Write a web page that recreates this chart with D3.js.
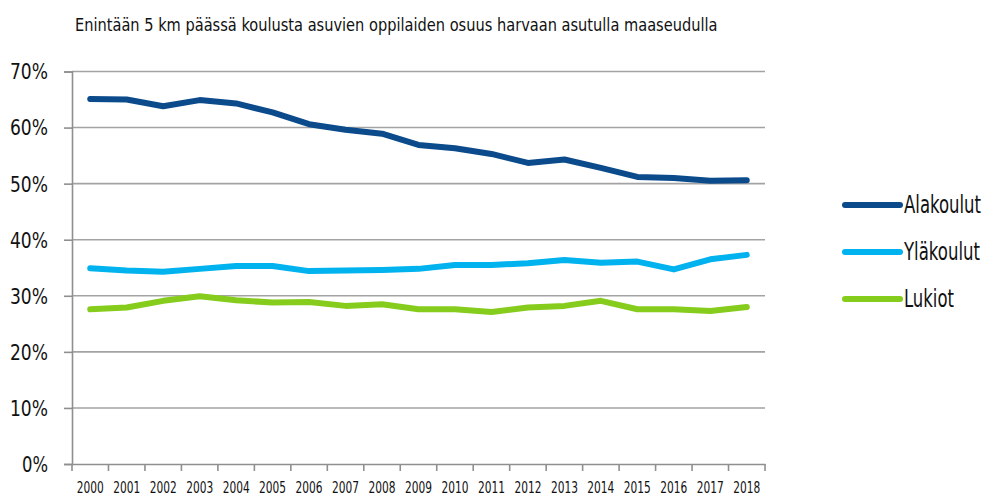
<!DOCTYPE html>
<html>
<head>
<meta charset="utf-8">
<script src="https://cdnjs.cloudflare.com/ajax/libs/d3/7.8.5/d3.min.js"></script>
<style>
  body { margin: 0; background: #fff; }
  svg text { font-family: "DejaVu Sans Condensed", "Liberation Sans Narrow", sans-serif; font-stretch: condensed; fill: #111; }
</style>
</head>
<body>
<div id="chart"></div>
<script>
const years = ["2000","2001","2002","2003","2004","2005","2006","2007","2008","2009","2010","2011","2012","2013","2014","2015","2016","2017","2018"];
const alakoulut = [65.1, 65.0, 63.8, 64.9, 64.3, 62.7, 60.6, 59.6, 58.9, 56.9, 56.3, 55.3, 53.7, 54.3, 52.8, 51.2, 51.0, 50.5, 50.6];
const ylakoulut = [34.9, 34.5, 34.3, 34.8, 35.3, 35.3, 34.4, 34.5, 34.6, 34.8, 35.5, 35.5, 35.8, 36.4, 35.9, 36.1, 34.7, 36.5, 37.3];
const lukiot = [27.6, 27.9, 29.1, 29.9, 29.2, 28.8, 28.9, 28.2, 28.5, 27.6, 27.6, 27.1, 27.9, 28.2, 29.1, 27.6, 27.6, 27.3, 28.0];
const seriesNames = ["Alakoulut", "Yläkoulut", "Lukiot"];
const seriesColors = ["#0b4a8b", "#00b2ee", "#86cc1c"];
const yTicks = [0, 10, 20, 30, 40, 50, 60, 70];
const title = "Enintään 5 km päässä koulusta asuvien oppilaiden osuus harvaan asutulla maaseudulla";

const W = 986, H = 496;
const margin = { top: 71.5, left: 72, right: 221, bottom: 32 };
const svg = d3.select("#chart").append("svg").attr("width", W).attr("height", H);

const x = d3.scaleBand().domain(years).range([margin.left, W - margin.right]);
const y = d3.scaleLinear().domain([0, 70]).range([H - margin.bottom, margin.top]);

// squeeze text horizontally to a target width (condensed look)
function squeeze(sel, x0, target) {
  sel.each(function (d, i) {
    const t = typeof target === "function" ? target(d, i) : target;
    const len = this.getComputedTextLength();
    d3.select(this).attr("x", 0).attr("transform", `translate(${x0},0) scale(${t / len},1)`);
  });
}

// gridlines
svg.append("g").selectAll("line").data(yTicks.filter(d => d > 0)).join("line")
  .attr("x1", margin.left).attr("x2", W - margin.right)
  .attr("y1", d => y(d)).attr("y2", d => y(d))
  .attr("stroke", "#a3a3a3").attr("stroke-width", 1.6);

// y axis
const yAxis = svg.append("g").attr("transform", `translate(${margin.left},0)`)
  .call(d3.axisLeft(y).tickValues(yTicks).tickSize(8).tickPadding(16).tickFormat(d => d + "%"));
yAxis.select(".domain").attr("stroke", "#8f8f8f").attr("stroke-width", 1.6);
yAxis.selectAll(".tick line").attr("stroke", "#8f8f8f").attr("stroke-width", 1.6);
yAxis.selectAll(".tick text").style("font-size", "21px").attr("fill", "#111").attr("dy", "0.35em")
  .attr("textLength", d => d === 0 ? 26 : 38).attr("lengthAdjust", "spacingAndGlyphs");

// x axis
const xAxis = svg.append("g").attr("transform", `translate(0,${y(0)})`)
  .call(d3.axisBottom(x).tickSize(0).tickPadding(18));
xAxis.select(".domain").attr("stroke", "#8f8f8f").attr("stroke-width", 1.6);
xAxis.selectAll(".tick text").style("font-size", "15px").attr("fill", "#111")
  .attr("textLength", 27).attr("lengthAdjust", "spacingAndGlyphs");
xAxis.append("g").selectAll("line").data(years.concat(["end"])).join("line")
  .attr("x1", (d, i) => i < years.length ? x(d) : x(years[years.length - 1]) + x.bandwidth())
  .attr("x2", (d, i) => i < years.length ? x(d) : x(years[years.length - 1]) + x.bandwidth())
  .attr("y1", 0).attr("y2", 7)
  .attr("stroke", "#8f8f8f").attr("stroke-width", 1.6);

// lines
const allSeries = [alakoulut, ylakoulut, lukiot];
const line = d3.line()
  .x((d, i) => x(years[i]) + x.bandwidth() / 2)
  .y(d => y(d));
svg.append("g").selectAll("path").data(allSeries).join("path")
  .attr("d", line)
  .attr("fill", "none")
  .attr("stroke", (d, i) => seriesColors[i])
  .attr("stroke-width", 6)
  .attr("stroke-linecap", "round")
  .attr("stroke-linejoin", "round");

// title
svg.append("text").attr("y", 31).style("font-size", "18px").text(title)
  .call(squeeze, 75, 643);

// legend
const legendWidths = [77, 76, 50];
const legend = svg.append("g").selectAll("g").data(seriesNames).join("g")
  .attr("transform", (d, i) => `translate(845,${205 + i * 47})`);
legend.append("line").attr("x1", 0).attr("x2", 55).attr("y1", 0).attr("y2", 0)
  .attr("stroke", (d, i) => seriesColors[i]).attr("stroke-width", 6).attr("stroke-linecap", "round");
legend.append("text").attr("y", 0).attr("dy", "0.35em")
  .style("font-size", "24px")
  .text(d => d)
  .call(squeeze, 59, (d, i) => legendWidths[i]);
</script>
</body>
</html>
